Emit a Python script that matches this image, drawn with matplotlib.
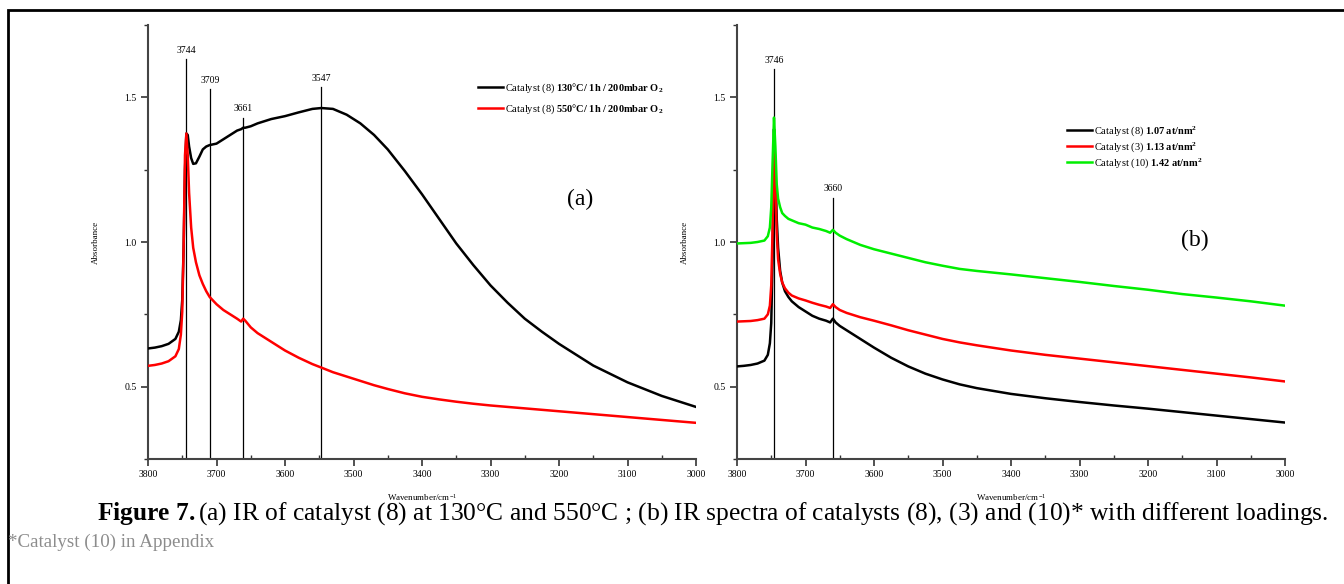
import numpy as np
import matplotlib
matplotlib.use("Agg")
import matplotlib.pyplot as plt
from matplotlib.patches import Rectangle
from matplotlib.ticker import MultipleLocator

plt.rcParams['font.family'] = ['Liberation Serif', 'DejaVu Serif']
plt.rcParams['mathtext.fontset'] = 'custom'
plt.rcParams['mathtext.rm'] = 'Liberation Serif'
plt.rcParams['mathtext.bf'] = 'Liberation Serif:bold'
plt.rcParams['mathtext.it'] = 'Liberation Serif:italic'

# ---- panel (a) data ----
wn_a = [3800, 3790, 3780, 3770, 3760, 3755, 3752, 3750, 3748, 3746, 3744, 3742, 3740,
        3737, 3734, 3730, 3725, 3720, 3715, 3710, 3700, 3690, 3680, 3670, 3664, 3661,
        3658, 3650, 3640, 3620, 3600, 3580, 3560, 3547, 3530, 3510, 3490, 3470, 3450,
        3425, 3400, 3375, 3350, 3325, 3300, 3275, 3250, 3225, 3200, 3150, 3100, 3050, 3000]
abs_130 = [0.632, 0.635, 0.640, 0.648, 0.665, 0.690, 0.730, 0.800, 0.980, 1.250, 1.375,
           1.370, 1.330, 1.290, 1.270, 1.272, 1.295, 1.320, 1.330, 1.335, 1.340, 1.355,
           1.370, 1.385, 1.390, 1.395, 1.395, 1.400, 1.410, 1.425, 1.435, 1.448, 1.460,
           1.463, 1.460, 1.440, 1.410, 1.370, 1.320, 1.245, 1.165, 1.080, 0.995, 0.920,
           0.850, 0.790, 0.735, 0.690, 0.648, 0.573, 0.515, 0.468, 0.430]
abs_550 = [0.572, 0.575, 0.580, 0.588, 0.605, 0.630, 0.680, 0.760, 0.980, 1.300, 1.375,
           1.300, 1.170, 1.050, 0.980, 0.930, 0.885, 0.855, 0.830, 0.810, 0.785, 0.765,
           0.750, 0.735, 0.725, 0.735, 0.728, 0.705, 0.685, 0.655, 0.625, 0.600, 0.578,
           0.566, 0.550, 0.535, 0.520, 0.505, 0.492, 0.477, 0.465, 0.456, 0.448, 0.441,
           0.435, 0.430, 0.425, 0.420, 0.415, 0.405, 0.395, 0.385, 0.375]
peaks_a = [3744, 3709, 3661, 3547]
peak_tops_a = [1.632, 1.528, 1.430, 1.535]
labels_a = ["Catalyst (8) $\\mathbf{130°C/\\ 1h\\ /\\ 200mbar\\ O_2}$",
            "Catalyst (8) $\\mathbf{550°C/\\ 1h\\ /\\ 200mbar\\ O_2}$"]

# ---- panel (b) data ----
wn_b = [3800, 3790, 3780, 3770, 3760, 3755, 3752, 3750, 3748, 3746, 3744, 3742, 3740,
        3737, 3734, 3730, 3725, 3720, 3710, 3700, 3690, 3680, 3670, 3664, 3660, 3656,
        3650, 3640, 3620, 3600, 3575, 3550, 3525, 3500, 3475, 3450, 3400, 3350, 3300,
        3250, 3200, 3150, 3100, 3050, 3000]
abs_cat8 = [0.570, 0.572, 0.575, 0.580, 0.590, 0.610, 0.650, 0.720, 0.950, 1.390, 1.250,
            1.080, 0.980, 0.900, 0.860, 0.830, 0.810, 0.795, 0.775, 0.760, 0.745, 0.735,
            0.728, 0.722, 0.735, 0.722, 0.710, 0.695, 0.665, 0.635, 0.600, 0.570, 0.545,
            0.525, 0.508, 0.495, 0.475, 0.460, 0.447, 0.435, 0.424, 0.412, 0.400, 0.388, 0.376]
abs_cat3 = [0.725, 0.726, 0.727, 0.730, 0.735, 0.750, 0.780, 0.850, 1.050, 1.320, 1.200,
            1.030, 0.940, 0.890, 0.860, 0.840, 0.825, 0.815, 0.805, 0.798, 0.790, 0.783,
            0.777, 0.772, 0.785, 0.775, 0.765, 0.755, 0.740, 0.728, 0.712, 0.695, 0.680,
            0.665, 0.653, 0.643, 0.625, 0.610, 0.597, 0.584, 0.571, 0.558, 0.545, 0.532, 0.518]
abs_cat10 = [0.995, 0.996, 0.997, 1.000, 1.005, 1.020, 1.050, 1.120, 1.280, 1.430, 1.330,
             1.200, 1.150, 1.120, 1.100, 1.090, 1.080, 1.075, 1.065, 1.060, 1.050, 1.045,
             1.038, 1.032, 1.042, 1.032, 1.022, 1.010, 0.990, 0.975, 0.960, 0.945, 0.930,
             0.918, 0.907, 0.900, 0.888, 0.875, 0.862, 0.848, 0.835, 0.820, 0.808, 0.795, 0.780]
peaks_b = [3746, 3660]
peak_tops_b = [1.597, 1.153]
labels_b = ["Catalyst (8) $\\mathbf{1.07\\ at/nm^2}$",
            "Catalyst (3) $\\mathbf{1.13\\ at/nm^2}$",
            "Catalyst (10) $\\mathbf{1.42\\ at/nm^2}$"]

W, H = 1344, 584
fig = plt.figure(figsize=(W / 100, H / 100), dpi=100)

def px_axes(x0, x1, ytop, ybot):
    return fig.add_axes([x0 / W, 1 - ybot / H, (x1 - x0) / W, (ybot - ytop) / H])

def style(ax):
    ax.set_xlim(3800, 3000)
    ax.set_ylim(0.25, 1.75)
    for s in ['top', 'right']:
        ax.spines[s].set_visible(False)
    for s in ['left', 'bottom']:
        ax.spines[s].set_color('#444444')
        ax.spines[s].set_linewidth(1.5)
    ax.xaxis.set_major_locator(MultipleLocator(100))
    ax.xaxis.set_minor_locator(MultipleLocator(50))
    ax.yaxis.set_minor_locator(MultipleLocator(0.25))
    ax.set_yticks([0.5, 1.0, 1.5])
    ax.set_yticklabels(['0.5', '1.0', '1.5'])
    ax.tick_params(which='major', length=5, width=1.2, color='#333333', labelsize=7, pad=3)
    ax.tick_params(axis='x', which='minor', length=3, width=1, direction='in', color='#333333')
    ax.tick_params(axis='y', which='minor', length=3, width=1, color='#333333')
    ax.set_xlabel('Wavenumber/cm$^{-1}$', fontsize=6.5, labelpad=9)
    ax.set_ylabel('Absorbance', fontsize=6.5, labelpad=18)

def peak_marks(ax, peaks, tops):
    for p, t in zip(peaks, tops):
        ax.plot([p, p], [0.25, t], color='black', lw=0.9, zorder=1)
        ax.text(p, t + 0.015, str(p), ha='center', va='bottom', fontsize=7)

# panel (a)
ax1 = px_axes(148, 696, 25, 459)
style(ax1)
ax1.plot(wn_a, abs_130, color='black', lw=1.8, label=labels_a[0], zorder=3)
ax1.plot(wn_a, abs_550, color='#ff0000', lw=1.8, label=labels_a[1], zorder=3)
peak_marks(ax1, peaks_a, peak_tops_a)
ax1.text(3169, 1.146, '(a)', fontsize=17, ha='center', va='center')
ax1.legend(loc='upper left', bbox_to_anchor=(0.595, 0.880), frameon=False, fontsize=7.5,
           handlelength=2.4, handletextpad=0.15, labelspacing=0.75, borderaxespad=0)

# panel (b)
ax2 = px_axes(737, 1285, 25, 459)
style(ax2)
ax2.plot(wn_b, abs_cat8, color='black', lw=1.8, label=labels_b[0], zorder=3)
ax2.plot(wn_b, abs_cat3, color='#ff0000', lw=1.8, label=labels_b[1], zorder=3)
ax2.plot(wn_b, abs_cat10, color='#00ee00', lw=1.8, label=labels_b[2], zorder=3)
peak_marks(ax2, peaks_b, peak_tops_b)
ax2.text(3131, 1.007, '(b)', fontsize=17, ha='center', va='center')
ax2.legend(loc='upper left', bbox_to_anchor=(0.595, 0.782), frameon=False, fontsize=7.5,
           handlelength=2.4, handletextpad=0.15, labelspacing=0.22, borderaxespad=0)

# caption
fig.text(97 / W, 1 - 514 / H,
         "$\\mathbf{Figure\\ 7.}$(a) IR of catalyst (8) at 130°C and 550°C ; "
         "(b) IR spectra of catalysts (8), (3) and (10)* with different loadings.",
         fontsize=18.4, va='center', ha='left')
fig.text(8 / W, 1 - 542 / H, "*Catalyst (10) in Appendix", fontsize=13.7,
         color='#8c8c8c', va='center', ha='left')

# frame around the figure
fig.add_artist(Rectangle((8 / W, -0.1), 1.2, 1 - 10 / H + 0.1, transform=fig.transFigure,
                         fill=False, edgecolor='black', lw=2))

fig.savefig('out.png', dpi=100)
